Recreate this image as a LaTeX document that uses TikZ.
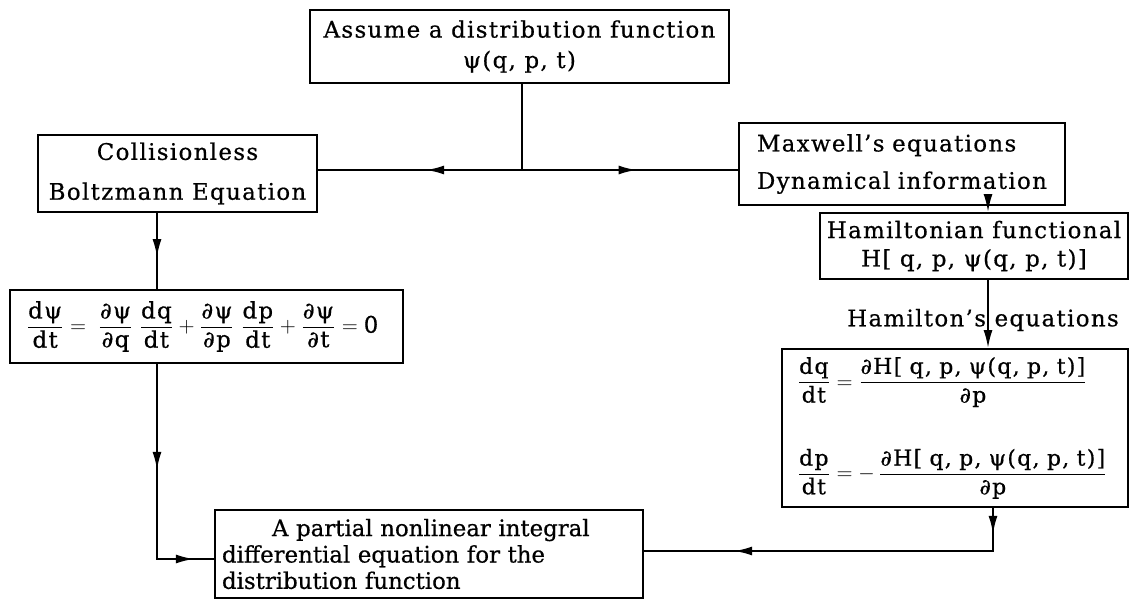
\documentclass[tikz,border=0pt]{standalone}
\usepackage{amsmath}
\usepackage{fontspec}
\defaultfontfeatures{}
\setmainfont{DejaVu Serif}[LetterSpace=6, FakeBold=0.6]
\usetikzlibrary{arrows.meta,positioning,decorations.markings}

\newcommand{\qfrac}[2]{\dfrac{\text{#1}}{\text{#2}}}

\begin{document}
\begin{tikzpicture}[x=0.02cm, y=-0.02cm, >={Latex[length=3.6mm,width=1.8mm]},
    block/.style={rectangle, draw, line width=1.1pt, inner sep=0pt, align=center, font=\fontsize{13}{15}\selectfont},
    line/.style={draw, line width=1.1pt},
    arrowat/.style={postaction={decorate, decoration={markings, mark=at position #1 with {\arrow{>}}}}}]

    \useasboundingbox (0,0) rectangle (1131,601);

    \node [block, minimum width=8.38cm, minimum height=1.46cm] (assume) at (519.5,46.5) {
        Assume a distribution function\\[0.08cm]
        ψ(q, p, t)
    };
    \node [block, minimum width=5.58cm, minimum height=1.54cm] (collision) at (177.5,173.5) {
        Collisionless\\[0.27cm]
        Boltzmann Equation
    };
    \node [block, minimum width=6.52cm, minimum height=1.64cm, text width=5.8cm, align=left] (maxwell) at (902,164) {
        Maxwell's equations\\[0.22cm]
        Dynamical information
    };
    \node [block, minimum width=6.16cm, minimum height=1.32cm] (hamfun) at (974,246) {
        Hamiltonian functional\\[0.04cm]
        H[ q, p, ψ(q, p, t)]
    };
    \node [block, minimum width=7.86cm, minimum height=1.46cm] (boltz) at (206.5,326.5) {
        $\qfrac{dψ}{dt}= \;\qfrac{∂ψ}{∂q}\;\qfrac{dq}{dt} + \qfrac{∂ψ}{∂p}\;\qfrac{dp}{dt} + \qfrac{∂ψ}{∂t} = \text{0}$
    };
    \node [block, minimum width=6.92cm, minimum height=3.16cm, text width=6.32cm, align=left,
        font=\fontsize{12.5}{14}\selectfont] (hameq) at (955,428) {
        $\qfrac{dq}{dt} = \qfrac{∂H[ q, p, ψ(q, p, t)]}{∂p}$\\[0.8cm]
        $\qfrac{dp}{dt} = -\,\qfrac{∂H[ q, p, ψ(q, p, t)]}{∂p}$
    };
    \node [block, minimum width=8.56cm, minimum height=1.76cm, text width=8.28cm, align=left,
        font=\addfontfeatures{LetterSpace=0}\fontsize{13}{15}\selectfont] (result) at (429,554) {
        \hspace*{1cm}A partial nonlinear integral\\
        differential equation for the\\
        distribution function
    };
    \node [font=\fontsize{13}{15}\selectfont] (hamlabel) at (983,320) {Hamilton's equations};

    % connectors
    \coordinate (split) at (522,170);
    \coordinate (hamx) at (988,0);
    \coordinate (leftx) at (157,0);
    \coordinate (leftin) at (157,559);
    \coordinate (rightin) at (993,551);

    \path [line] (assume.south -| split) -- (split);
    \path [line, arrowat=0.47] (split) -- (collision.east |- split);
    \path [line, arrowat=0.53] (split) -- (maxwell.west |- split);
    \path [line, ->] (maxwell.south -| hamx) -- (hamfun.north -| hamx);
    \path [line, ->] (hamfun.south -| hamx) -- (hameq.north -| hamx);
    \path [line, arrowat=0.58] (collision.south -| leftx) -- (boltz.north -| leftx);
    \path [line, arrowat=0.42, arrowat=0.92] (boltz.south -| leftx) -- (leftin) -- (result.west |- leftin);
    \path [line, arrowat=0.066, arrowat=0.77] (hameq.south -| rightin) -- (rightin) -- (result.east |- rightin);
\end{tikzpicture}
\end{document}
